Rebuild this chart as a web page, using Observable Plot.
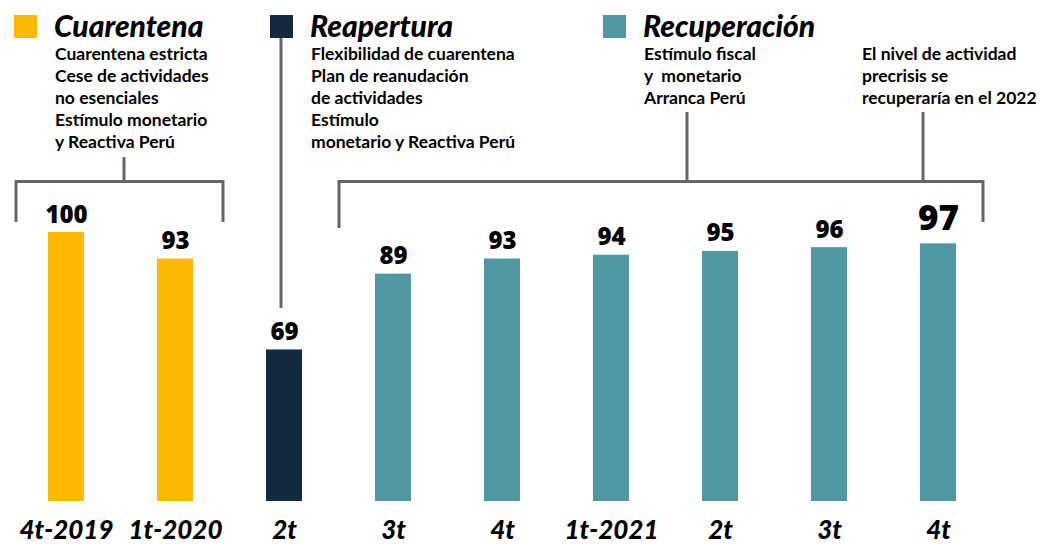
<!DOCTYPE html>
<html><head><meta charset="utf-8">
<script src="https://cdn.jsdelivr.net/npm/d3@7"></script>
<script src="https://cdn.jsdelivr.net/npm/@observablehq/plot@0.6"></script>
<style>
html,body{margin:0;padding:0;background:#fff;}
#chart{width:1042px;height:544px;overflow:hidden;}
</style></head><body><div id="chart"></div>
<script>
// ---- data ----
const keys = ["4t-2019","1t-2020","2t-2020","3t-2020","4t-2020","1t-2021","2t-2021","3t-2021","4t-2021"];
const tickLabels = ["4t-2019","1t-2020","2t","3t","4t","1t-2021","2t","3t","4t"];
const values = [100,93,69,89,93,94,95,96,97];
const phases = ["Cuarentena","Cuarentena","Reapertura","Recuperación","Recuperación","Recuperación","Recuperación","Recuperación","Recuperación"];
const phaseNames = ["Cuarentena","Reapertura","Recuperación"];
const phaseColors = ["#FBBA00","#132B41","#4F98A2"];
const phaseNotes = [
  ["Cuarentena estricta","Cese de actividades","no esenciales","Estímulo monetario","y Reactiva Perú"],
  ["Flexibilidad de cuarentena","Plan de reanudación","de actividades","Estímulo","monetario y Reactiva Perú"],
  ["Estímulo fiscal","y  monetario","Arranca Perú"]
];
const finalNote = ["El nivel de actividad","precrisis se","recuperaría en el 2022"];
const yBase = 29;

const data = keys.map((k,i)=>({key:k,label:tickLabels[i],value:values[i],phase:phases[i]}));
const last = data.length - 1;

const plot = Plot.plot({
  width:1042, height:544,
  marginTop:232, marginBottom:43, marginLeft:36, marginRight:74,
  x:{domain:keys, paddingInner:0.67, paddingOuter:0.1, axis:null},
  y:{domain:[yBase,100], axis:null},
  color:{domain:phaseNames, range:phaseColors},
  style:{background:"#fff", fontFamily:"Lato"},
  marks:[
    Plot.barY(data,{x:"key", y1:yBase, y2:"value", fill:"phase"}),
    Plot.text(data,{filter:(d,i)=>i!==last, x:"key", y:"value", text:d=>String(d.value), dy:-10, lineAnchor:"bottom",
      fontSize:24, fontWeight:800, fontFamily:"Open Sans", fill:"#000"}),
    Plot.text(data,{filter:(d,i)=>i===last, x:"key", y:"value", text:d=>String(d.value), dy:-14, lineAnchor:"bottom",
      fontSize:35, fontWeight:800, fontFamily:"Open Sans", fill:"#000"}),
    Plot.text(data,{x:"key", text:"label", frameAnchor:"bottom", lineAnchor:"bottom", dy:37,
      fontSize:26, fontWeight:900, fontStyle:"italic", fontFamily:"Lato", fill:"#000"})
  ]
});
document.getElementById("chart").appendChild(plot);

// ---- annotations (layout) ----
const svg = d3.select(plot);
const g = svg.append("g").attr("text-anchor","start");
const lineColor = "#666";
const headerX = [14, 270, 603];
phaseNames.forEach((name,i)=>{
  const x0 = headerX[i];
  g.append("rect").attr("x",x0).attr("y",15).attr("width",23).attr("height",23).attr("fill",phaseColors[i]);
  g.append("text").attr("x",x0+40).attr("y",37).text(name)
    .attr("font-family","Lato").attr("font-size",30).attr("font-weight",900).attr("font-style","italic").attr("fill","#000");
  const t = g.append("text").attr("font-family","Lato").attr("font-size",17.5).attr("font-weight",700).attr("fill","#000")
    .attr("xml:space","preserve");
  phaseNotes[i].forEach((line,j)=>{
    t.append("tspan").attr("x",x0+41).attr("y",60+22*j).text(line);
  });
});
const tn = g.append("text").attr("font-family","Lato").attr("font-size",17.5).attr("font-weight",700).attr("fill","#000");
finalNote.forEach((line,j)=>tn.append("tspan").attr("x",862).attr("y",60+22*j).text(line));

const path = (d)=>g.append("path").attr("d",d).attr("fill","none").attr("stroke",lineColor).attr("stroke-width",3);
// bracket Cuarentena
path("M16,222V181.5H223V222");
path("M124,157V181.5");
// Reapertura line
path("M281,38V308");
// bracket Recuperación
path("M339,228V181.5H983V222");
path("M687,112V181.5");
path("M923,112V181.5");
</script></body></html>
